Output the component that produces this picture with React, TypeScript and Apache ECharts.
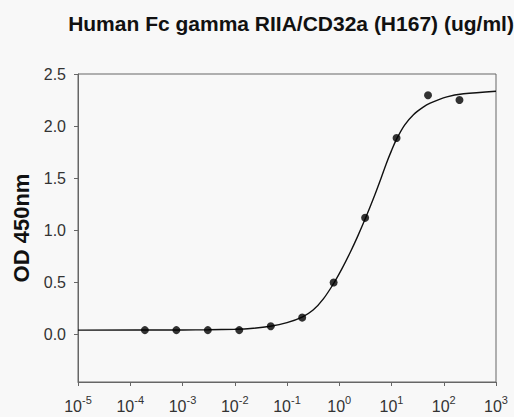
import React, { useEffect, useRef } from "react";
import * as echarts from "echarts";

const title = "Human Fc gamma RIIA/CD32a (H167) (ug/ml)";
const yTitle = "OD 450nm";

const concentrations = [200, 50, 12.5, 3.125, 0.78125, 0.1953125, 0.048828125, 0.01220703125, 0.0030517578125, 0.00076293945, 0.00019073486];
const odValues = [2.25, 2.296, 1.886, 1.12, 0.5, 0.163, 0.08, 0.043, 0.043, 0.043, 0.043];

const curveX = [0.00001, 0.001, 0.00316, 0.01, 0.02, 0.0479, 0.1, 0.195, 0.316, 0.501, 0.78, 1.122, 1.626, 2.239, 3.2, 4.467, 6.31, 7.94, 10, 12.5, 17.8, 26.3, 39.8, 55, 114.8, 240, 1000];
const curveY = [0.043, 0.044, 0.046, 0.051, 0.058, 0.08, 0.115, 0.168, 0.235, 0.345, 0.49, 0.63, 0.79, 0.94, 1.12, 1.3, 1.5, 1.64, 1.765, 1.875, 2.01, 2.11, 2.18, 2.22, 2.28, 2.31, 2.335];

const xTicks = [1e-5, 1e-4, 1e-3, 1e-2, 1e-1, 1, 10, 100, 1000];
const yTicks = [0, 0.5, 1, 1.5, 2, 2.5];

export default function App() {
  const ref = useRef<HTMLDivElement>(null);
  useEffect(() => {
    if (!ref.current) return;
    const chart = echarts.init(ref.current, null, { renderer: "svg" });
    chart.setOption({
      animation: false,
      backgroundColor: "#f8f8f8",
      title: {
        text: title,
        left: 286,
        textAlign: "center",
        top: 8,
        textStyle: { fontFamily: "Liberation Sans", fontWeight: "bold", fontSize: 21, color: "#111" },
      },
      grid: {
        left: 78,
        top: 74,
        right: 18,
        bottom: 35,
        show: true,
        borderColor: "#666",
        borderWidth: 1,
        backgroundColor: "transparent",
      },
      xAxis: {
        type: "log",
        logBase: 10,
        min: 1e-5,
        max: 1e3,
        axisLine: { show: true, onZero: false, lineStyle: { color: "#666", width: 1 } },
        axisTick: { show: true, length: 4, inside: false, customValues: xTicks, lineStyle: { color: "#666" } },
        minorTick: { show: false },
        splitLine: { show: false },
        axisLabel: {
          customValues: xTicks,
          margin: 12,
          formatter: (v: number) => `{b|10}{s|${Math.round(Math.log10(v))}}`,
          rich: {
            b: { fontFamily: "Liberation Sans", fontSize: 16, color: "#333", lineHeight: 20, verticalAlign: "bottom" },
            s: { fontFamily: "Liberation Sans", fontSize: 11, color: "#333", lineHeight: 20, verticalAlign: "top", padding: [0, 0, 8, 0] },
          },
        },
      },
      yAxis: {
        type: "value",
        min: -0.455,
        max: 2.5,
        name: yTitle,
        nameLocation: "middle",
        nameGap: 46,
        nameTextStyle: { fontFamily: "Liberation Sans", fontWeight: "bold", fontSize: 22, color: "#111" },
        axisLine: { show: true, onZero: false, lineStyle: { color: "#666", width: 1 } },
        axisTick: { show: true, length: 4, customValues: yTicks, lineStyle: { color: "#666" } },
        splitLine: { show: false },
        axisLabel: {
          customValues: yTicks,
          margin: 12,
          formatter: (v: number) => v.toFixed(1),
          fontFamily: "Liberation Sans",
          fontSize: 16,
          color: "#333",
        },
      },
      series: [
        {
          type: "line",
          data: curveX.map((x, i) => [x, curveY[i]]),
          smooth: 0.3,
          showSymbol: false,
          symbol: "none",
          lineStyle: { color: "#111", width: 1.4 },
          z: 2,
        },
        {
          type: "scatter",
          data: concentrations.map((x, i) => [x, odValues[i]]),
          symbol: "circle",
          symbolSize: 8,
          itemStyle: { color: "#000" },
          z: 3,
        },
      ],
    });
    return () => chart.dispose();
  }, []);
  return <div ref={ref} style={{ position: "fixed", left: 0, top: 0, width: 514, height: 417 }} />;
}
